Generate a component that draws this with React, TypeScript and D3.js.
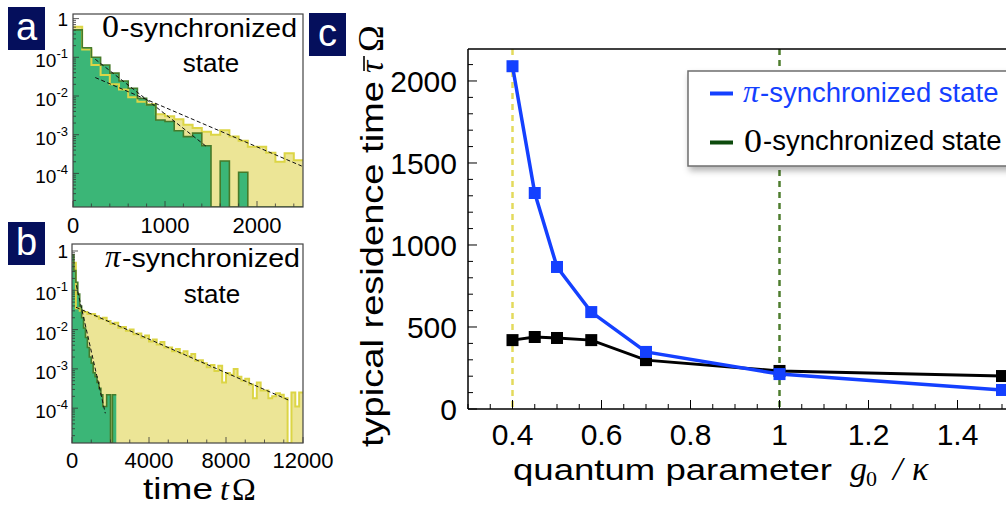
import * as d3 from "d3";

// ---- panel a: residence time histograms, bin width 100
const histABin = 100;
const histAYellow = [0.62, 0.16, 0.063, 0.035, 0.02, 0.0148, 0.0093, 0.0071, 0.0061, 0.0034, 0.003, 0.0025, 0.0018, 0.0015, 0.0012, 0.001, 0.0013, 0.0009, 0.0007, 0.00049, 0.00049, 0.00034, 0.0002, 0.00033, 0.00022];
const histAGreen = [0.51, 0.177, 0.1, 0.063, 0.039, 0.0245, 0.0158, 0.0087, 0.0059, 0.0024, 0.0022, 0.00127, 0.00089, 0.0011, 0.00052, 0, 0.00021, 0, 0.000107, 0, 0, 0, 0, 0, 0];
const fitA = [
  [{ t: 242, p: 0.089 }, { t: 1453, p: 0.00049 }],
  [{ t: 242, p: 0.03 }, { t: 2486, p: 0.000155 }],
];
const ticksA = [0, 1000, 2000];

// ---- panel b
const histBYellowBin = 200;
const histBYellow = [0.5, 0.035, 0.03, 0.028, 0.025, 0.025, 0.022, 0.019, 0.02, 0.0166, 0.0138, 0.015, 0.0112, 0.0117, 0.0093, 0.01, 0.0076, 0.0079, 0.0063, 0.0071, 0.005, 0.0056, 0.0042, 0.0048, 0.0035, 0.0035, 0.0028, 0.0032, 0.0025, 0.0028, 0.0021, 0.0024, 0.0016, 0.00166, 0.0014, 0.0011, 0.00126, 0.00089, 0.0012, 0.00045, 0.00079, 0.00071, 0.001, 0.00063, 0.0005, 0.00056, 0.0004, 0.00018, 0.00045, 0.00028, 0.00028, 0.00018, 0.0002, 0.00024, 0.00022, 0.00018, 0, 0.00025, 0.00011, 0.00025];
const histBGreenBin = 100;
const histBGreen = [0.8, 0.32, 0.16, 0.08, 0.04, 0.02, 0.011, 0.0063, 0.0035, 0.002, 0.0014, 0.0008, 0.00063, 0.00045, 0.00032, 0.00022, 0.00011, 0.00011, 0.00022, 0.00022, 0, 0.00022, 0.00022];
const fitB = [
  [{ t: 225, p: 0.135 }, { t: 1730, p: 0.000074 }],
  [{ t: 208, p: 0.037 }, { t: 11325, p: 0.000155 }],
];
const ticksB = [0, 4000, 8000, 12000];

const logTickLabels = [
  { v: 1, exp: "" },
  { v: 0.1, exp: "-1" },
  { v: 0.01, exp: "-2" },
  { v: 0.001, exp: "-3" },
  { v: 0.0001, exp: "-4" },
];

// ---- panel c
const coupling = [0.4, 0.45, 0.5, 0.577, 0.7, 1.0, 1.5];
const piState = [2090, 1317, 866, 591, 348, 213, 116];
const zeroState = [420, 439, 433, 420, 298, 232, 201];
const xTicksC = [0.4, 0.6, 0.8, 1, 1.2, 1.4];
const yTicksC = [0, 500, 1000, 1500, 2000];

const SANS = "'Liberation Sans', Arial, Helvetica, sans-serif";
const SERIF = "'Liberation Serif', 'Times New Roman', serif";
const GREEN_FILL = "#3bb677";
const GREEN_LINE = "#467a2a";
const YEL_FILL = "#ece596";
const YEL_LINE = "#dcd546";
const BLUE = "#1440ff";
const NAVY = "#050f5c";

type Pt = { t: number; p: number };

function steps(values: number[], bin: number): Pt[] {
  const pts = values.map((p, i) => ({ t: i * bin, p }));
  pts.push({ t: values.length * bin, p: values[values.length - 1] });
  return pts;
}

function LogPanel(props: {
  id: string;
  x: d3.ScaleLinear<number, number>;
  y: d3.ScaleLogarithmic<number, number>;
  yellow: number[];
  yellowBin: number;
  green: number[];
  greenBin: number;
  fits: Pt[][];
  xTicks: number[];
  minorStep: number;
  majorStep: number;
  tickLabelY: number;
}) {
  const { id, x, y, yellow, yellowBin, green, greenBin, fits } = props;
  const [x0, x1] = x.range();
  const [yb, yt] = y.range();
  const yMin = y.domain()[0];
  const yy = (p: number) => y(Math.max(p, yMin));
  const area = d3
    .area<Pt>()
    .x((d) => x(d.t))
    .y0(yb)
    .y1((d) => yy(d.p))
    .curve(d3.curveStepAfter);
  const line = d3
    .line<Pt>()
    .x((d) => x(d.t))
    .y((d) => yy(d.p))
    .curve(d3.curveStepAfter);
  const fitLine = d3
    .line<Pt>()
    .x((d) => x(d.t))
    .y((d) => y(d.p));
  const yS = steps(yellow, yellowBin);
  const gS = steps(green, greenBin);

  const minor: { v: number; major: boolean }[] = [];
  for (let e = -5; e <= 0; e++) {
    for (let m = 1; m <= 9; m++) {
      const v = m * Math.pow(10, e);
      if (v >= y.domain()[0] && v <= y.domain()[1]) minor.push({ v, major: m === 1 });
    }
  }
  const xMinor = d3.range(x.domain()[0], x.domain()[1] + 1, props.minorStep);

  return (
    <g>
      <defs>
        <clipPath id={id}>
          <rect x={x0} y={yt} width={x1 - x0} height={yb - yt} />
        </clipPath>
      </defs>
      <g clipPath={`url(#${id})`}>
        <path d={area(yS) || ""} fill={YEL_FILL} />
        <path d={area(gS) || ""} fill={GREEN_FILL} />
        <path d={line(yS) || ""} fill="none" stroke={YEL_LINE} strokeWidth={2} />
        <path d={line(gS) || ""} fill="none" stroke={GREEN_LINE} strokeWidth={1.6} />
        {fits.map((f, i) => (
          <path key={i} d={fitLine(f) || ""} fill="none" stroke="#111" strokeWidth={1} strokeDasharray="4 2.5" />
        ))}
      </g>
      {minor.map((d, i) => (
        <line key={i} x1={x0} x2={x0 + (d.major ? 6 : 3)} y1={y(d.v)} y2={y(d.v)} stroke="#333" strokeWidth={0.8} />
      ))}
      {xMinor.map((v, i) => (
        <line key={i} x1={x(v)} x2={x(v)} y1={yb} y2={yb - (v % props.majorStep === 0 ? 6 : 3.5)} stroke="#333" strokeWidth={0.8} />
      ))}
      <rect x={x0} y={yt} width={x1 - x0} height={yb - yt} fill="none" stroke="#444" strokeWidth={1.2} />
      {logTickLabels.map((d) =>
        d.exp === "" ? (
          <text key={d.v} x={68} y={y(d.v) + 7} textAnchor="end" fontFamily={SANS} fontSize={19}>
            1
          </text>
        ) : (
          <text key={d.v} x={68} y={y(d.v) + 10} textAnchor="end" fontFamily={SANS} fontSize={19}>
            10
            <tspan dy={-9} fontSize={13}>
              {d.exp}
            </tspan>
          </text>
        )
      )}
      {props.xTicks.map((v) => (
        <text key={v} x={x(v)} y={props.tickLabelY} textAnchor="middle" fontFamily={SANS} fontSize={22}>
          {v}
        </text>
      ))}
    </g>
  );
}

function PanelLabel({ x, y, s }: { x: number; y: number; s: string }) {
  return (
    <g>
      <rect x={x} y={y} width={37} height={43} fill={NAVY} />
      <text x={x + 18.5} y={y + 33} textAnchor="middle" fontFamily={SANS} fontSize={38} fill="#fff">
        {s}
      </text>
    </g>
  );
}

export default function App() {
  const xA = d3.scaleLinear().domain([0, 2500]).range([73, 303]);
  const yA = d3.scaleLog().domain([1.355e-5, 1.315]).range([207, 14]);
  const xB = d3.scaleLinear().domain([0, 12000]).range([72, 303]);
  const yB = d3.scaleLog().domain([1.3e-5, 1.507]).range([443, 244]);

  const xC = d3.scaleLinear().domain([0.3, 1.55]).range([468, 1024.25]);
  const yC = d3.scaleLinear().domain([0, 2195]).range([409, 49]);
  const cLine = d3
    .line<number>()
    .x((_, i) => xC(coupling[i]))
    .y((d) => yC(d));
  const xMinorC = d3.range(6, 31).map((k) => k * 0.05);
  const yMinorC = d3.range(0, 22).map((k) => k * 100);

  return (
    <svg width={1006} height={508} style={{ position: "absolute", left: 0, top: 0, background: "#fff" }}>
      <defs>
        <filter id="legshadow" x="-10%" y="-20%" width="130%" height="160%">
          <feDropShadow dx={2} dy={4} stdDeviation={3} floodColor="#000" floodOpacity={0.3} />
        </filter>
      </defs>
      <rect width={1006} height={508} fill="#fff" />

      {/* panel a */}
      <LogPanel id="clipA" x={xA} y={yA} yellow={histAYellow} yellowBin={histABin} green={histAGreen} greenBin={histABin}
        fits={fitA} xTicks={ticksA} minorStep={200} majorStep={1000} tickLabelY={233} />
      <text x={102} y={37} fontFamily={SERIF} fontSize={31} textLength={17} lengthAdjust="spacingAndGlyphs">0</text>
      <text x={120} y={37} fontFamily={SANS} fontSize={25} textLength={177} lengthAdjust="spacingAndGlyphs">-synchronized</text>
      <text x={211} y={72} textAnchor="middle" fontFamily={SANS} fontSize={26}>state</text>
      <PanelLabel x={8} y={7} s="a" />

      {/* panel b */}
      <LogPanel id="clipB" x={xB} y={yB} yellow={histBYellow} yellowBin={histBYellowBin} green={histBGreen} greenBin={histBGreenBin}
        fits={fitB} xTicks={ticksB} minorStep={1000} majorStep={4000} tickLabelY={468} />
      <text x={105} y={267} fontFamily={SERIF} fontStyle="italic" fontSize={31}>π</text>
      <text x={122} y={267} fontFamily={SANS} fontSize={25} textLength={178} lengthAdjust="spacingAndGlyphs">-synchronized</text>
      <text x={212} y={303} textAnchor="middle" fontFamily={SANS} fontSize={26}>state</text>
      <PanelLabel x={8} y={222} s="b" />
      <text x={143} y={499} fontFamily={SANS} fontSize={30} textLength={70} lengthAdjust="spacingAndGlyphs">time</text>
      <text x={220} y={500} fontFamily={SERIF} fontStyle="italic" fontSize={32}>t</text>
      <text x={232} y={500} fontFamily={SERIF} fontSize={32}>Ω</text>

      {/* panel c */}
      <PanelLabel x={309} y={13} s="c" />
      <line x1={xC(0.4)} x2={xC(0.4)} y1={49} y2={409} stroke="#e3da5c" strokeWidth={2.5} strokeDasharray="6 5" />
      <line x1={xC(1)} x2={xC(1)} y1={49} y2={409} stroke="#4e7d2e" strokeWidth={2.5} strokeDasharray="6 5" />
      <path d={cLine(zeroState) || ""} fill="none" stroke="#000" strokeWidth={3} />
      {zeroState.map((v, i) => (
        <rect key={i} x={xC(coupling[i]) - 6} y={yC(v) - 6} width={12} height={12} fill="#000" />
      ))}
      <path d={cLine(piState) || ""} fill="none" stroke={BLUE} strokeWidth={3.5} />
      {piState.map((v, i) => (
        <rect key={i} x={xC(coupling[i]) - 6} y={yC(v) - 6} width={12} height={12} fill={BLUE} />
      ))}
      <line x1={468} x2={1006} y1={49} y2={49} stroke="#000" strokeWidth={1.5} />
      <line x1={468} x2={468} y1={49} y2={409} stroke="#000" strokeWidth={1.5} />
      <line x1={468} x2={1006} y1={409} y2={409} stroke="#000" strokeWidth={1.5} />
      {xMinorC.map((v, i) => {
        const major = Math.abs(v * 5 - Math.round(v * 5)) < 1e-6;
        return <line key={i} x1={xC(v)} x2={xC(v)} y1={409} y2={409 - (major ? 9 : 5)} stroke="#000" strokeWidth={1} />;
      })}
      {yMinorC.map((v, i) => (
        <line key={i} x1={468} x2={468 + (v % 500 === 0 ? 9 : 5)} y1={yC(v)} y2={yC(v)} stroke="#000" strokeWidth={1} />
      ))}
      {xTicksC.map((v) => (
        <text key={v} x={xC(v)} y={445} textAnchor="middle" fontFamily={SANS} fontSize={30}>
          {v}
        </text>
      ))}
      {yTicksC.map((v) => (
        <text key={v} x={457} y={yC(v) + 11} textAnchor="end" fontFamily={SANS} fontSize={30}>
          {v}
        </text>
      ))}
      <g transform="translate(383,447) rotate(-90)">
        <text x={0} y={0} fontFamily={SANS} fontSize={31} textLength={366} lengthAdjust="spacingAndGlyphs">
          typical residence time
        </text>
        <text x={374} y={0} fontFamily={SERIF} fontStyle="italic" fontSize={34}>τ</text>
        <line x1={376} x2={391} y1={-19} y2={-19} stroke="#000" strokeWidth={1.6} />
        <text x={395} y={0} fontFamily={SERIF} fontSize={36}>Ω</text>
      </g>
      <text x={513} y={480} fontFamily={SANS} fontSize={30} textLength={319} lengthAdjust="spacingAndGlyphs">
        quantum parameter
      </text>
      <text x={850} y={480} fontFamily={SERIF} fontStyle="italic" fontSize={34}>g</text>
      <text x={866} y={486} fontFamily={SERIF} fontSize={22}>0</text>
      <text x={893} y={480} fontFamily={SERIF} fontStyle="italic" fontSize={34}>/</text>
      <text x={912} y={480} fontFamily={SERIF} fontStyle="italic" fontSize={34}>κ</text>

      {/* legend */}
      <rect x={688} y={71} width={360} height={95} fill="#fff" stroke="#6e6e6e" strokeWidth={1.5} filter="url(#legshadow)" />
      <line x1={710} x2={733} y1={93.5} y2={93.5} stroke={BLUE} strokeWidth={4} />
      <text x={743} y={102} fontFamily={SERIF} fontStyle="italic" fontSize={32} fill={BLUE}>π</text>
      <text x={760} y={102} fontFamily={SANS} fontSize={27.5} fill={BLUE}>-synchronized state</text>
      <line x1={710} x2={733} y1={142.5} y2={142.5} stroke="#0d4a0d" strokeWidth={4} />
      <text x={744} y={152} fontFamily={SERIF} fontSize={33} textLength={18} lengthAdjust="spacingAndGlyphs">0</text>
      <text x={763} y={150} fontFamily={SANS} fontSize={27.5}>-synchronized state</text>
    </svg>
  );
}
